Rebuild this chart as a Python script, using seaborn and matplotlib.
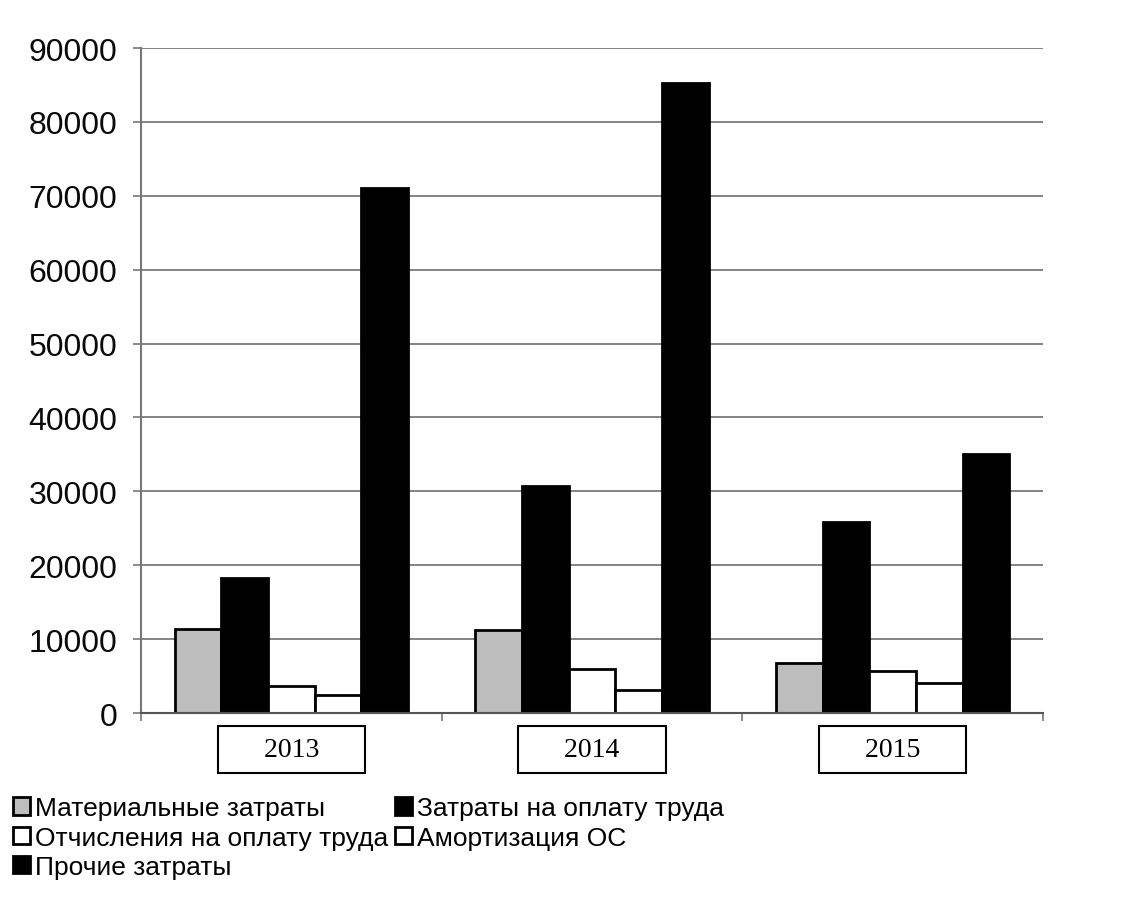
import matplotlib

matplotlib.use("Agg")
import matplotlib.pyplot as plt
import pandas as pd
import seaborn as sns

# Values
YEARS = ["2013", "2014", "2015"]
ITEMS = [
    "Материальные затраты",
    "Затраты на оплату труда",
    "Отчисления на оплату труда",
    "Амортизация ОС",
    "Прочие затраты",
]
MATERIAL = [11400, 11300, 6700]
LABOR = [18300, 30700, 25900]
LABOR_TAX = [3600, 5900, 5700]
DEPRECIATION = [2500, 3100, 4000]
OTHER = [71000, 85200, 35000]

COLORS = ["#bdbdbd", "#000000", "#ffffff", "#ffffff", "#000000"]


def build_frame() -> pd.DataFrame:
    rows = []
    for item, values in zip(ITEMS, [MATERIAL, LABOR, LABOR_TAX, DEPRECIATION, OTHER]):
        for year, value in zip(YEARS, values):
            rows.append({"year": year, "item": item, "value": value})
    return pd.DataFrame(rows)


def main() -> None:
    sns.set_style("white")
    plt.rcParams["font.family"] = ["Liberation Sans", "DejaVu Sans"]
    plt.rcParams["text.color"] = "black"

    df = build_frame()

    fig = plt.figure(figsize=(11.39, 9.03), dpi=100)
    ax = fig.add_axes([0.1238, 0.2093, 0.7919, 0.7364])

    sns.barplot(
        data=df,
        x="year",
        y="value",
        hue="item",
        hue_order=ITEMS,
        order=YEARS,
        palette=COLORS,
        width=0.775,
        edgecolor="black",
        linewidth=2,
        saturation=1,
        ax=ax,
    )

    ax.set_xlim(-0.5, len(YEARS) - 0.5)
    ax.set_ylim(0, 90000)
    ax.set_yticks(range(0, 90001, 10000))
    ax.set_xlabel("")
    ax.set_ylabel("")

    # grid and spines
    ax.yaxis.grid(True, color="#7a7a7a", linewidth=1.3)
    ax.set_axisbelow(True)
    for side in ["top", "right"]:
        ax.spines[side].set_visible(False)
    ax.spines["left"].set_color("#777777")
    ax.spines["left"].set_linewidth(1.5)
    ax.spines["bottom"].set_color("#555555")
    ax.spines["bottom"].set_linewidth(1.5)

    ax.tick_params(
        axis="y", length=6, width=1.2, color="#777777",
        labelsize=23, pad=11, labelcolor="#0a0a0a", left=True,
    )

    # category boundaries as small ticks, year labels in boxes
    ax.set_xticks([i - 0.5 for i in range(len(YEARS) + 1)], minor=True)
    ax.tick_params(axis="x", which="minor", length=6, width=1.2, color="#777777", bottom=True)
    ax.set_xticks(range(len(YEARS)))
    ax.set_xticklabels([f"     {y}     " for y in YEARS])
    ax.tick_params(axis="x", which="major", length=0, pad=17, labelcolor="black")
    for lbl in ax.get_xticklabels():
        lbl.set_fontfamily(["Liberation Serif", "DejaVu Serif"])
        lbl.set_fontsize(20)
        lbl.set_bbox(dict(boxstyle="square,pad=0.4", facecolor="white",
                          edgecolor="black", linewidth=1.5))

    # legend below, rows filled left to right
    handles, labels = ax.get_legend_handles_labels()
    ax.get_legend().remove()
    order = [0, 2, 4, 1, 3]
    fig.legend(
        [handles[i] for i in order],
        [labels[i] for i in order],
        loc="upper left",
        bbox_to_anchor=(0.011, 0.117),
        ncol=2,
        frameon=False,
        fontsize=19,
        labelcolor="black",
        handlelength=0.65,
        handleheight=0.65,
        handletextpad=0.2,
        columnspacing=0.25,
        labelspacing=0.2,
        borderpad=0,
        borderaxespad=0,
    )

    fig.savefig("out.png", dpi=100)


if __name__ == "__main__":
    main()
